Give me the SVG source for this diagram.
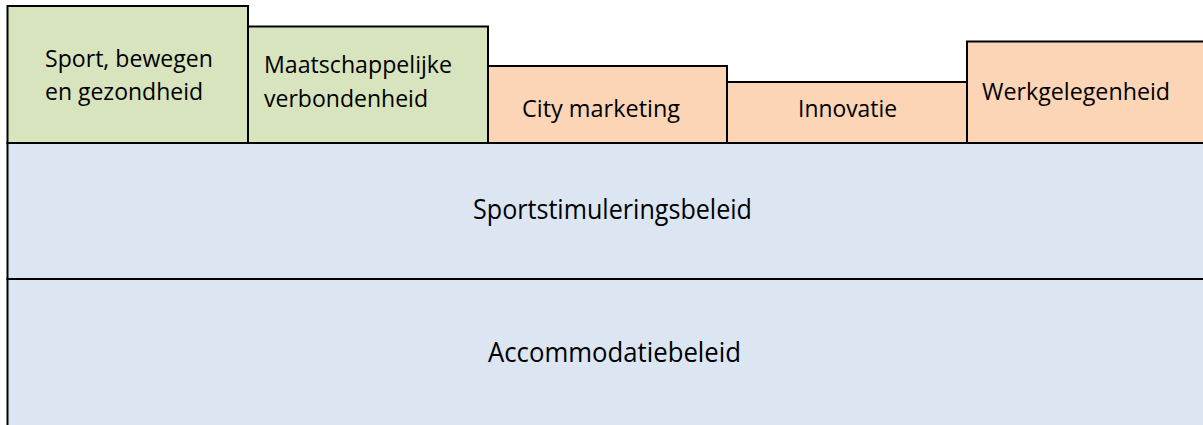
<svg xmlns="http://www.w3.org/2000/svg" width="1203" height="425" viewBox="0 0 1203 425">
<style>
.box{stroke:#000;stroke-width:2}
.g{fill:#D7E4BD}
.o{fill:#FBD5B5}
.b{fill:#DCE6F2}
text{font-family:"Open Sans","Noto Sans",sans-serif;fill:#000}
.s{font-size:24.5px}
.l{font-size:27.5px}
</style>
<rect width="1203" height="425" fill="#fff"/>
<g id="accommodatiebeleid">
<rect class="box b" x="7.5" y="279" width="1210" height="160"/>
<text class="l" x="488" y="362" textLength="253" lengthAdjust="spacingAndGlyphs">Accommodatiebeleid</text>
</g>
<g id="sportstimuleringsbeleid">
<rect class="box b" x="7.5" y="143" width="1210" height="136"/>
<text class="l" x="473" y="219" textLength="279" lengthAdjust="spacingAndGlyphs">Sportstimuleringsbeleid</text>
</g>
<g id="sport">
<rect class="box g" x="7.5" y="6" width="240.5" height="137"/>
<text class="s" x="45" y="67" textLength="168" lengthAdjust="spacingAndGlyphs">Sport, bewegen</text>
<text class="s" x="45" y="100" textLength="158" lengthAdjust="spacingAndGlyphs">en gezondheid</text>
</g>
<g id="maatschappelijk">
<rect class="box g" x="248" y="26.5" width="240" height="116.5"/>
<text class="s" x="264" y="73" textLength="188" lengthAdjust="spacingAndGlyphs">Maatschappelijke</text>
<text class="s" x="264" y="107" textLength="164" lengthAdjust="spacingAndGlyphs">verbondenheid</text>
</g>
<g id="citymarketing">
<rect class="box o" x="488" y="66" width="239" height="77"/>
<text class="s" x="522" y="117" textLength="158" lengthAdjust="spacingAndGlyphs">City marketing</text>
</g>
<g id="innovatie">
<rect class="box o" x="727" y="82" width="240" height="61"/>
<text class="s" x="798" y="117" textLength="99" lengthAdjust="spacingAndGlyphs">Innovatie</text>
</g>
<g id="werkgelegenheid">
<rect class="box o" x="967" y="41.5" width="250" height="101.5"/>
<text class="s" x="982" y="100" textLength="188" lengthAdjust="spacingAndGlyphs">Werkgelegenheid</text>
</g>
<g id="connectors"></g>
</svg>
